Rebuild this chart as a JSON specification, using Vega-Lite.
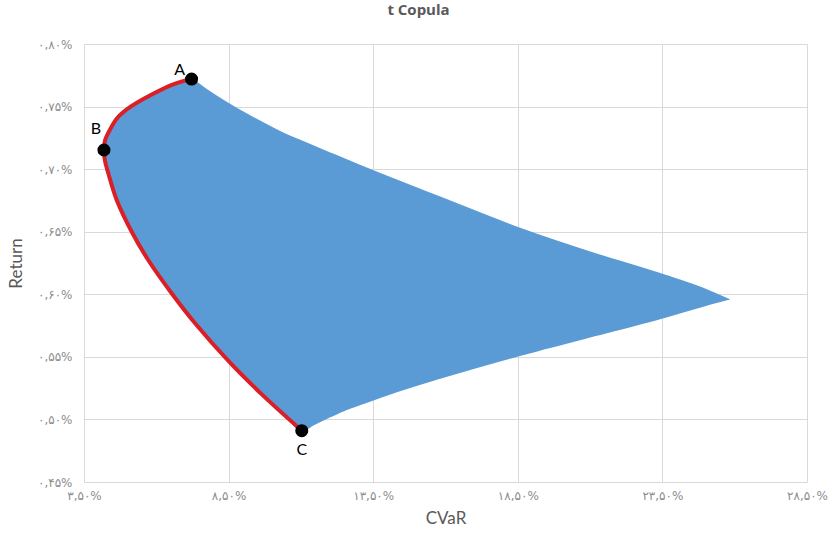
{
  "$schema": "https://vega.github.io/schema/vega-lite/v6.json",
  "width": 723,
  "height": 438,
  "autosize": {"type": "none"},
  "padding": {"left": 84, "top": 44, "right": 30, "bottom": 52},
  "background": "white",
  "title": {"text": "t Copula", "fontSize": 15, "fontWeight": "bold", "color": "#595959", "font": "Open Sans", "offset": 20, "dx": -27},
  "config": {
    "view": {"stroke": null},
    "axis": {"gridColor": "#d9d9d9", "gridWidth": 1, "domain": false, "ticks": false, "labelFlush": false, "labelColor": "#8c8c8c", "labelFont": "DejaVu Sans", "labelFontSize": 12, "titleColor": "#595959", "titleFont": "Lato", "titleFontSize": 17, "titleFontWeight": "normal"}
  },
  "datasets": {
    "region": [
      {"x": 4.19, "lo": 0.7153, "hi": 0.7153},
      {"x": 4.23, "lo": 0.7103, "hi": 0.7233},
      {"x": 4.34, "lo": 0.6967, "hi": 0.7284},
      {"x": 4.63, "lo": 0.6754, "hi": 0.740},
      {"x": 5.13, "lo": 0.651, "hi": 0.750},
      {"x": 5.76, "lo": 0.6261, "hi": 0.7587},
      {"x": 6.55, "lo": 0.6003, "hi": 0.7675},
      {"x": 7.22, "lo": 0.5804, "hi": 0.772},
      {"x": 7.34, "lo": 0.5768, "hi": 0.7702},
      {"x": 7.8, "lo": 0.5648, "hi": 0.7625},
      {"x": 8.55, "lo": 0.5453, "hi": 0.7515},
      {"x": 9.64, "lo": 0.5202, "hi": 0.7375},
      {"x": 10.51, "lo": 0.5019, "hi": 0.7273},
      {"x": 11.03, "lo": 0.491, "hi": 0.7223},
      {"x": 11.42, "lo": 0.4956, "hi": 0.7185},
      {"x": 12.01, "lo": 0.5022, "hi": 0.7128},
      {"x": 12.58, "lo": 0.5081, "hi": 0.7073},
      {"x": 13.16, "lo": 0.5129, "hi": 0.7018},
      {"x": 13.74, "lo": 0.5177, "hi": 0.6963},
      {"x": 14.31, "lo": 0.5222, "hi": 0.6911},
      {"x": 15.81, "lo": 0.533, "hi": 0.6776},
      {"x": 18.57, "lo": 0.5513, "hi": 0.6527},
      {"x": 21.0, "lo": 0.566, "hi": 0.6337},
      {"x": 23.6, "lo": 0.5818, "hi": 0.615},
      {"x": 25.03, "lo": 0.5915, "hi": 0.6035},
      {"x": 25.77, "lo": 0.596, "hi": 0.596}
    ],
    "frontier": [
      {"ord": 1, "x": 7.22, "y": 0.772},
      {"ord": 2, "x": 6.61, "y": 0.768},
      {"ord": 3, "x": 5.81, "y": 0.7593},
      {"ord": 4, "x": 5.11, "y": 0.7499},
      {"ord": 5, "x": 4.65, "y": 0.7409},
      {"ord": 6, "x": 4.36, "y": 0.7299},
      {"ord": 7, "x": 4.23, "y": 0.7233},
      {"ord": 8, "x": 4.19, "y": 0.7153},
      {"ord": 9, "x": 4.22, "y": 0.7073},
      {"ord": 10, "x": 4.34, "y": 0.6967},
      {"ord": 11, "x": 4.63, "y": 0.6754},
      {"ord": 12, "x": 5.15, "y": 0.650},
      {"ord": 13, "x": 5.72, "y": 0.6274},
      {"ord": 14, "x": 6.53, "y": 0.6008},
      {"ord": 15, "x": 7.34, "y": 0.5768},
      {"ord": 16, "x": 8.55, "y": 0.5453},
      {"ord": 17, "x": 9.64, "y": 0.5202},
      {"ord": 18, "x": 11.03, "y": 0.491}
    ],
    "corners": [
      {"name": "A", "x": 7.22, "y": 0.772},
      {"name": "B", "x": 4.19, "y": 0.7153},
      {"name": "C", "x": 11.03, "y": 0.491}
    ]
  },
  "encoding": {
    "x": {
      "field": "x", "type": "quantitative",
      "scale": {"domain": [3.5, 28.5], "nice": false, "zero": false},
      "axis": {
        "title": "CVaR", "values": [3.5, 8.5, 13.5, 18.5, 23.5, 28.5], "labelPadding": 8, "titlePadding": 9,
        "labelExpr": "replace(replace(replace(replace(replace(replace(replace(replace(replace(replace(replace(format(datum.value,'.2f'),'.',','),regexp('0','g'),'۰'),regexp('1','g'),'۱'),regexp('2','g'),'۲'),regexp('3','g'),'۳'),regexp('4','g'),'۴'),regexp('5','g'),'۵'),regexp('6','g'),'۶'),regexp('7','g'),'۷'),regexp('8','g'),'۸'),regexp('9','g'),'۹') + '%'"
      }
    }
  },
  "layer": [
    {
      "data": {"name": "region"},
      "mark": {"type": "area", "color": "#5B9BD5", "opacity": 1, "stroke": "#5B9BD5", "strokeWidth": 1.5, "interpolate": "monotone"},
      "encoding": {
        "y": {
          "field": "lo", "type": "quantitative",
          "scale": {"domain": [0.45, 0.8], "nice": false, "zero": false},
          "axis": {
            "title": "Return", "values": [0.45, 0.5, 0.55, 0.6, 0.65, 0.7, 0.75, 0.8], "labelPadding": 12, "titlePadding": 12,
            "labelExpr": "replace(replace(replace(replace(replace(replace(replace(replace(replace(replace(replace(format(datum.value,'.2f'),'.',','),regexp('0','g'),'۰'),regexp('1','g'),'۱'),regexp('2','g'),'۲'),regexp('3','g'),'۳'),regexp('4','g'),'۴'),regexp('5','g'),'۵'),regexp('6','g'),'۶'),regexp('7','g'),'۷'),regexp('8','g'),'۸'),regexp('9','g'),'۹') + '%'"
          }
        },
        "y2": {"field": "hi"}
      }
    },
    {
      "data": {"name": "frontier"},
      "mark": {"type": "line", "color": "#DA1F26", "strokeWidth": 4, "interpolate": "catmull-rom"},
      "encoding": {
        "y": {"field": "y", "type": "quantitative"},
        "order": {"field": "ord", "type": "quantitative"}
      }
    },
    {
      "data": {"name": "corners"},
      "mark": {"type": "circle", "color": "black", "opacity": 1, "size": 170},
      "encoding": {"y": {"field": "y", "type": "quantitative"}}
    },
    {
      "data": {"name": "corners"},
      "transform": [{"filter": "datum.name == 'A'"}],
      "mark": {"type": "text", "font": "Lato", "fontSize": 16, "color": "black", "dx": -12, "dy": -9},
      "encoding": {"y": {"field": "y", "type": "quantitative"}, "text": {"field": "name"}}
    },
    {
      "data": {"name": "corners"},
      "transform": [{"filter": "datum.name == 'B'"}],
      "mark": {"type": "text", "font": "Lato", "fontSize": 16, "color": "black", "dx": -8, "dy": -21},
      "encoding": {"y": {"field": "y", "type": "quantitative"}, "text": {"field": "name"}}
    },
    {
      "data": {"name": "corners"},
      "transform": [{"filter": "datum.name == 'C'"}],
      "mark": {"type": "text", "font": "Lato", "fontSize": 16, "color": "black", "dx": 0, "dy": 19},
      "encoding": {"y": {"field": "y", "type": "quantitative"}, "text": {"field": "name"}}
    }
  ]
}
